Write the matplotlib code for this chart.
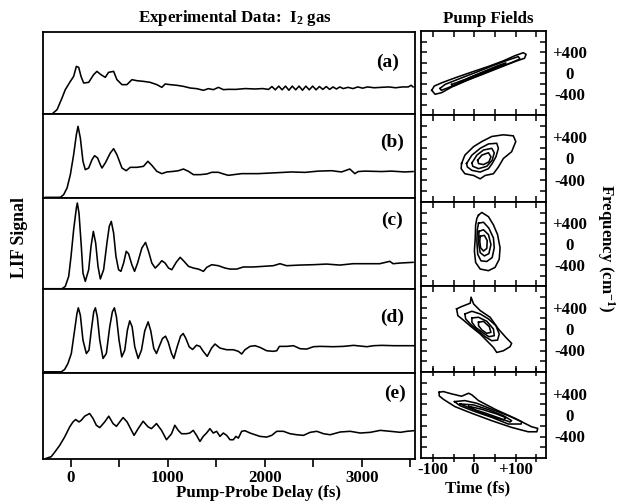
import matplotlib.pyplot as plt
import numpy as np

plt.rcParams['font.family'] = 'Liberation Serif'
plt.rcParams['font.weight'] = 'bold'
plt.rcParams['mathtext.default'] = 'regular'

# LIF signal vs pump-probe delay (fs), signal as fraction of panel height
delay_a = [-277, -192, -140, -89, -55, -3, 31, 59, 83, 107, 134, 186, 237, 271, 312, 357,
           391, 443, 477, 529, 580, 632, 683, 751, 820, 889, 940, 974, 1026, 1095, 1163,
           1232, 1300, 1369, 1420, 1472, 1523, 1575, 1626, 1700, 1800, 1900, 1980, 2040,
           2075, 2110, 2145, 2180, 2215, 2250, 2285, 2320, 2355, 2390, 2425, 2460, 2495,
           2530, 2565, 2600, 2635, 2670, 2705, 2740, 2775, 2810, 2860, 2910, 2960, 3010,
           3060, 3130, 3200, 3280, 3350, 3420, 3480, 3510, 3530]
signal_a = [0.0, 0.0, 0.053, 0.195, 0.297, 0.398, 0.459, 0.581, 0.569, 0.459, 0.378, 0.386,
            0.48, 0.52, 0.48, 0.447, 0.508, 0.52, 0.419, 0.358, 0.358, 0.419, 0.406, 0.398,
            0.386, 0.358, 0.325, 0.366, 0.358, 0.35, 0.337, 0.317, 0.309, 0.289, 0.309,
            0.297, 0.325, 0.297, 0.301, 0.30, 0.31, 0.305, 0.31, 0.30, 0.335, 0.295, 0.34,
            0.295, 0.34, 0.29, 0.34, 0.295, 0.34, 0.29, 0.34, 0.295, 0.34, 0.295, 0.335,
            0.30, 0.335, 0.30, 0.33, 0.305, 0.33, 0.31, 0.325, 0.31, 0.33, 0.315, 0.33,
            0.32, 0.325, 0.33, 0.32, 0.33, 0.33, 0.35, 0.33]

delay_b = [-260, -106, -72, -37, -3, 31, 59, 76, 100, 127, 151, 186, 220, 247, 278, 306,
           323, 357, 409, 443, 477, 529, 573, 614, 683, 751, 796, 837, 889, 940, 992,
           1060, 1112, 1163, 1215, 1266, 1335, 1403, 1455, 1523, 1575, 1626, 1763, 1935,
           2106, 2278, 2415, 2552, 2690, 2792, 2878, 2930, 2964, 3032, 3204, 3307, 3444, 3530]
signal_b = [0.008, 0.008, 0.04, 0.119, 0.278, 0.516, 0.754, 0.853, 0.714, 0.437, 0.337,
            0.357, 0.456, 0.504, 0.476, 0.397, 0.357, 0.417, 0.536, 0.587, 0.516, 0.357,
            0.325, 0.365, 0.365, 0.377, 0.437, 0.389, 0.317, 0.29, 0.31, 0.317, 0.325,
            0.345, 0.317, 0.278, 0.278, 0.286, 0.306, 0.306, 0.286, 0.27, 0.29, 0.29,
            0.30, 0.31, 0.305, 0.32, 0.325, 0.31, 0.345, 0.29, 0.315, 0.32, 0.315, 0.32,
            0.31, 0.315]

delay_c = [-278, -89, -55, -20, 4, 31, 59, 69, 86, 110, 127, 151, 186, 210, 234, 258, 282,
           306, 340, 374, 398, 419, 443, 467, 494, 518, 546, 573, 597, 631, 659, 690, 734,
           772, 803, 837, 872, 906, 940, 974, 1009, 1043, 1088, 1129, 1163, 1215, 1266,
           1317, 1369, 1403, 1455, 1523, 1592, 1643, 1712, 1780, 1883, 1986, 2089, 2158,
           2226, 2364, 2501, 2638, 2775, 2912, 3050, 3187, 3290, 3324, 3393, 3530]
signal_c = [0.003, 0.003, 0.029, 0.139, 0.359, 0.652, 0.89, 0.945, 0.835, 0.468, 0.175,
            0.084, 0.212, 0.468, 0.633, 0.505, 0.249, 0.11, 0.212, 0.505, 0.688, 0.743,
            0.615, 0.359, 0.212, 0.194, 0.285, 0.414, 0.388, 0.267, 0.194, 0.285, 0.45,
            0.512, 0.414, 0.285, 0.23, 0.267, 0.311, 0.285, 0.23, 0.212, 0.293, 0.348,
            0.311, 0.249, 0.23, 0.219, 0.194, 0.238, 0.267, 0.256, 0.23, 0.219, 0.219,
            0.242, 0.242, 0.249, 0.256, 0.278, 0.256, 0.263, 0.267, 0.274, 0.263, 0.278,
            0.278, 0.278, 0.304, 0.278, 0.285, 0.293]

delay_d = [-269, -96, -62, -28, 7, 41, 65, 79, 100, 127, 162, 189, 213, 238, 255, 275, 300,
           334, 368, 403, 430, 451, 472, 499, 527, 558, 585, 609, 634, 661, 696, 730, 764,
           799, 826, 857, 885, 912, 947, 978, 1005, 1040, 1064, 1098, 1133, 1160, 1188,
           1222, 1257, 1298, 1333, 1367, 1408, 1453, 1488, 1539, 1608, 1677, 1729, 1763,
           1797, 1849, 1901, 1952, 2021, 2090, 2125, 2152, 2228, 2297, 2366, 2434, 2503,
           2572, 2710, 2813, 2917, 2985, 3054, 3123, 3209, 3330, 3433, 3536]
signal_d = [0.014, 0.014, 0.042, 0.113, 0.232, 0.51, 0.708, 0.776, 0.688, 0.391, 0.232,
            0.272, 0.51, 0.728, 0.776, 0.669, 0.391, 0.173, 0.232, 0.55, 0.728, 0.776,
            0.669, 0.391, 0.192, 0.272, 0.51, 0.621, 0.55, 0.312, 0.173, 0.272, 0.502,
            0.609, 0.502, 0.292, 0.232, 0.312, 0.411, 0.438, 0.371, 0.232, 0.173, 0.312,
            0.438, 0.47, 0.411, 0.312, 0.28, 0.331, 0.317, 0.258, 0.198, 0.297, 0.345,
            0.297, 0.277, 0.277, 0.258, 0.226, 0.277, 0.317, 0.325, 0.305, 0.265, 0.258,
            0.265, 0.317, 0.317, 0.325, 0.289, 0.285, 0.313, 0.317, 0.313, 0.317, 0.329,
            0.321, 0.313, 0.325, 0.329, 0.325, 0.325, 0.325]

delay_e = [-251, -200, -165, -114, -62, -10, 24, 52, 86, 110, 145, 196, 231, 265, 300, 351,
           393, 437, 472, 506, 541, 582, 627, 654, 696, 747, 799, 833, 885, 937, 988, 1040,
           1074, 1109, 1143, 1195, 1229, 1264, 1298, 1333, 1367, 1401, 1436, 1470, 1505,
           1539, 1574, 1608, 1643, 1677, 1704, 1729, 1763, 1797, 1849, 1901, 1952, 2021,
           2073, 2125, 2193, 2262, 2331, 2400, 2469, 2538, 2607, 2675, 2779, 2882, 2985,
           3089, 3192, 3295, 3399, 3467, 3536]
signal_e = [0.008, 0.027, 0.078, 0.157, 0.255, 0.373, 0.431, 0.459, 0.431, 0.451, 0.498,
            0.529, 0.471, 0.392, 0.365, 0.431, 0.498, 0.412, 0.38, 0.431, 0.482, 0.431,
            0.333, 0.275, 0.353, 0.439, 0.373, 0.353, 0.412, 0.333, 0.224, 0.294, 0.392,
            0.333, 0.294, 0.294, 0.302, 0.333, 0.275, 0.204, 0.263, 0.302, 0.353, 0.302,
            0.322, 0.263, 0.302, 0.275, 0.224, 0.224, 0.263, 0.243, 0.322, 0.329, 0.302,
            0.282, 0.263, 0.255, 0.275, 0.322, 0.322, 0.294, 0.282, 0.275, 0.31, 0.322,
            0.294, 0.282, 0.314, 0.322, 0.302, 0.31, 0.333, 0.322, 0.31, 0.322, 0.329]

panel_tags = ['(a)', '(b)', '(c)', '(d)', '(e)']

# pump field contours, each a closed outline of (time fs, frequency cm-1)
field_a = [
    [(-103, -330), (-97, -249), (-79, -187), (-47, -93), (-6, 19), (34, 125), (70, 231),
     (98, 330), (118, 386), (125, 355), (121, 280), (98, 218), (62, 106), (22, -19),
     (-19, -143), (-55, -268), (-79, -374), (-95, -405)],
    [(-83, -293), (-71, -218), (-31, -93), (10, 31), (50, 156), (82, 249), (106, 312),
     (110, 268), (90, 199), (50, 81), (10, -44), (-31, -168), (-63, -280), (-80, -330)],
    [(-55, -218), (-23, -125), (18, 12), (58, 143), (76, 193), (74, 156), (50, 87),
     (14, -31), (-23, -156), (-51, -249)],
    [(-35, -168), (2, -44), (42, 81), (62, 143), (58, 112), (26, 19), (-14, -106),
     (-37, -187)],
]
field_b = [
    [(-31, -93), (-23, 62), (-2, 218), (18, 312), (42, 405), (70, 436), (94, 417),
     (100, 312), (90, 125), (70, 0), (58, -156), (46, -280), (26, -312), (14, -374),
     (-2, -312), (-23, -280), (-32, -187)],
    [(-19, -93), (-6, 62), (14, 187), (34, 268), (54, 280), (58, 187), (52, 31),
     (43, -93), (34, -187), (14, -249), (-6, -218), (-17, -156)],
    [(-6, -81), (6, 62), (22, 156), (42, 187), (48, 106), (43, -31), (30, -143),
     (10, -187), (-4, -143)],
    [(8, -31), (18, 62), (34, 106), (40, 31), (35, -62), (22, -112), (10, -93)],
]
field_c = [
    [(10, 551), (18, 601), (34, 520), (46, 364), (56, 178), (62, -72), (60, -290),
     (50, -445), (34, -508), (14, -477), (3, -352), (0, -134), (2, 115), (3, 364),
     (6, 489)],
    [(10, 396), (22, 414), (35, 302), (46, 115), (48, -72), (43, -258), (30, -333),
     (16, -321), (8, -196), (6, 53), (7, 271)],
    [(11, 240), (22, 271), (34, 178), (40, -9), (35, -183), (24, -227), (14, -165),
     (10, 22)],
    [(14, 146), (24, 165), (31, 65), (30, -84), (22, -134), (15, -72), (13, 53)],
]
field_d = [
    [(-43, 374), (-31, 417), (-10, 480), (-8, 592), (-2, 467), (14, 343), (38, 218),
     (58, 0), (76, -156), (90, -268), (86, -330), (70, -405), (54, -436), (46, -343),
     (30, -218), (14, -93), (-6, 31), (-27, 168), (-40, 249)],
    [(-23, 280), (-6, 330), (14, 280), (34, 187), (52, 62), (60, -93), (56, -206),
     (42, -218), (26, -143), (8, -31), (-10, 93), (-21, 187)],
    [(-6, 206), (10, 218), (30, 143), (46, 0), (48, -125), (35, -143), (19, -62),
     (3, 31), (-6, 125)],
    [(10, 125), (22, 143), (36, 44), (40, -62), (30, -81), (18, -19), (10, 62)],
]
field_e = [
    [(-85, 424), (-75, 436), (-55, 393), (-31, 349), (-14, 405), (-6, 374), (10, 268),
     (50, 106), (98, -62), (138, -218), (153, -249), (151, -312), (130, -312),
     (90, -231), (42, -106), (-6, 31), (-47, 156), (-75, 293), (-85, 355)],
    [(-48, 249), (-23, 268), (6, 218), (42, 106), (82, -12), (114, -125), (113, -168),
     (82, -168), (42, -44), (2, 62), (-35, 174)],
    [(-35, 206), (-2, 187), (34, 100), (70, -12), (90, -106), (86, -131), (62, -62),
     (26, 37), (-10, 125)],
    [(-14, 162), (18, 106), (54, 19), (76, -50), (70, -93), (42, -31), (10, 56)],
]

delays = [delay_a, delay_b, delay_c, delay_d, delay_e]
signals = [signal_a, signal_b, signal_c, signal_d, signal_e]
fields = [field_a, field_b, field_c, field_d, field_e]

W, H = 618, 501
fig = plt.figure(figsize=(W / 100, H / 100), dpi=100)


def box(x0, x1, y0, y1):
    return [x0 / W, 1 - y1 / H, (x1 - x0) / W, (y1 - y0) / H]


left_rows = [32, 114, 198, 289, 373, 459]
right_rows = [31, 115, 202, 286, 372, 458]
tag_pos = [(388, 62), (392, 142), (392, 220), (392, 317), (395, 393)]
fs = 12.2
lw_line = 1.15

for i in range(5):
    ax = fig.add_axes(box(43, 415, left_rows[i], left_rows[i + 1]))
    ax.plot(delays[i], signals[i], color='black', lw=lw_line)
    ax.set_xlim(-285, 3550)
    ax.set_ylim(0, 1)
    ax.set_yticks([])
    for s in ax.spines.values():
        s.set_linewidth(1.3)
    if i < 4:
        ax.set_xticks([])
    else:
        ax.set_xticks([0, 1000, 2000, 3000])
        ax.set_xticklabels(['0', '1000', '2000', '3000'], fontsize=fs, fontweight='bold')
        ax.set_xticks([500, 1500, 2500, 3500], minor=True)
        ax.tick_params(axis='x', which='both', direction='out', length=6, width=1.2, pad=2)
    fig.text(tag_pos[i][0] / W, 1 - tag_pos[i][1] / H, panel_tags[i], fontsize=14,
             fontweight='bold', ha='center', va='center')

    axr = fig.add_axes(box(421, 546, right_rows[i], right_rows[i + 1]))
    for c in fields[i]:
        pts = np.array(c + [c[0]])
        axr.plot(pts[:, 0], pts[:, 1], color='black', lw=lw_line)
    axr.set_xlim(-129, 173)
    axr.set_ylim(-800, 800)
    for s in axr.spines.values():
        s.set_linewidth(1.3)
    axr.set_xticks([-100, 0, 100])
    axr.set_xticks([-50, 50, 150], minor=True)
    axr.set_yticks([-400, 0, 400])
    axr.set_yticks([-600, -200, 200, 600], minor=True)
    axr.tick_params(axis='y', which='both', direction='in', left=True, right=True,
                    labelleft=False, labelright=True, length=4, width=1.1, pad=17)
    axr.set_yticklabels(['-400', '0', '+400'], fontsize=fs, fontweight='bold')
    for lab in axr.get_yticklabels():
        lab.set_horizontalalignment('center')
    if i < 4:
        axr.tick_params(axis='x', which='both', direction='in', top=True, bottom=True,
                        labelbottom=False, length=4, width=1.1)
    else:
        axr.tick_params(axis='x', which='both', direction='inout', top=True, bottom=True,
                        length=6, width=1.1, pad=0)
        axr.set_xticklabels(['-100', '0', '+100'], fontsize=fs, fontweight='bold')

fig.text(235 / W, 1 - 18 / H, 'Experimental Data:  $\\mathregular{I_2}$ gas', fontsize=fs,
         fontweight='bold', ha='center', va='center')
fig.text(488 / W, 1 - 19 / H, 'Pump Fields', fontsize=fs, fontweight='bold',
         ha='center', va='center')
fig.text(19 / W, 1 - 238 / H, 'LIF Signal', fontsize=12.8, fontweight='bold',
         ha='center', va='center', rotation=90)
fig.text(606 / W, 1 - 248 / H, 'Frequency (cm$^{\\mathregular{-1}}$)', fontsize=fs,
         fontweight='bold', ha='center', va='center', rotation=270)
fig.text(258 / W, 1 - 493 / H, 'Pump-Probe Delay (fs)', fontsize=fs, fontweight='bold',
         ha='center', va='center')
fig.text(478 / W, 1 - 488 / H, 'Time (fs)', fontsize=fs, fontweight='bold',
         ha='center', va='center')

fig.savefig('out.png', dpi=100)
